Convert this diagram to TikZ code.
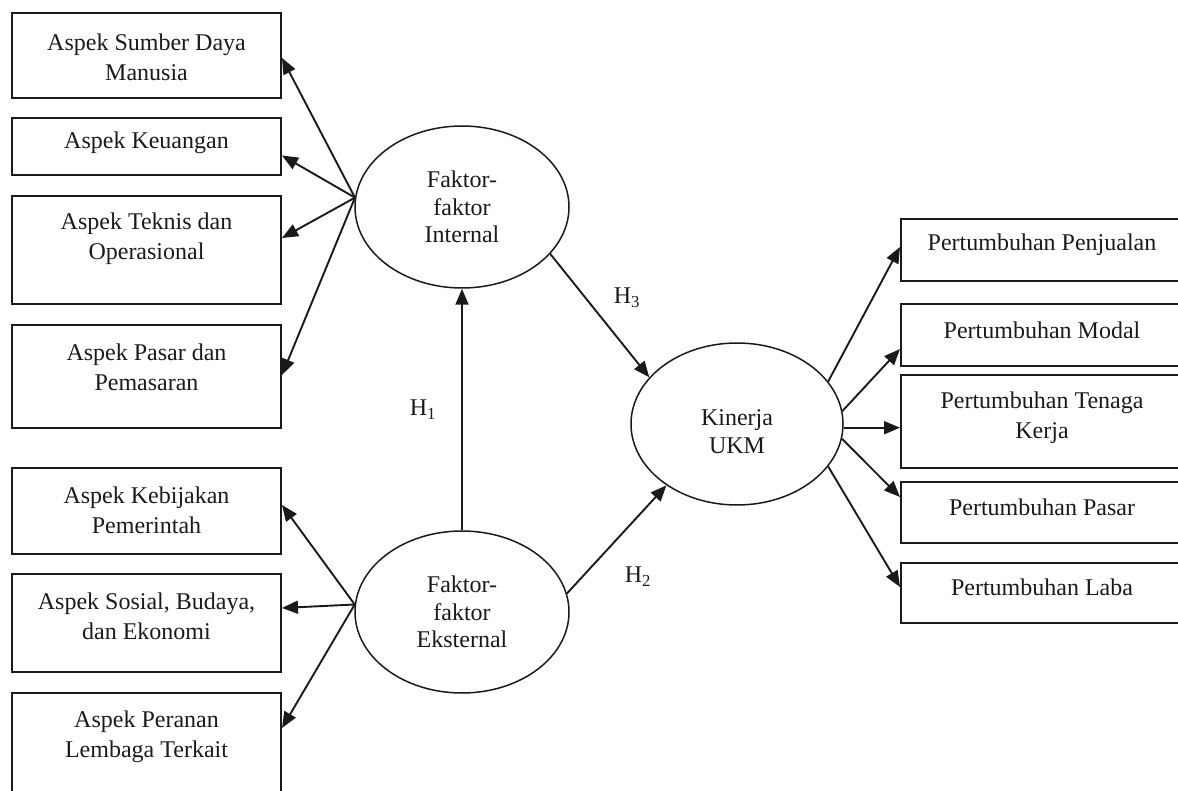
\documentclass[tikz,border=0pt]{standalone}
\usepackage{fontspec}
\setmainfont{Liberation Serif}
\usetikzlibrary{arrows.meta,shapes.geometric,calc}
\definecolor{ink}{HTML}{1A1A1A}
\begin{document}
\begin{tikzpicture}[x=1pt,y=-1pt,
  box/.style={draw=ink, line width=2pt, rectangle, inner sep=0pt},
  lbox/.style={box, minimum width=269pt},
  rbox/.style={box, minimum width=284pt},
  oval/.style={draw=ink, line width=1.5pt, ellipse, inner sep=0pt,
    minimum width=214pt, minimum height=162pt, align=center,
    font=\fontsize{24}{27.5}\selectfont, text=ink},
  txt/.style={align=center, inner sep=0pt, font=\fontsize{24}{30}\selectfont, text=ink},
  arr/.style={draw=ink, line width=1.9pt, -{Triangle[length=16pt,width=13pt]}},
  hyp/.style={inner sep=0pt, font=\fontsize{24}{28}\selectfont, text=ink}]

\useasboundingbox (0,0) rectangle (1178,791);

% indicator boxes of the internal factors
\node[lbox, minimum height=85pt]  (b1) at (146.5,55.5) {};
\node[lbox, minimum height=57pt]  (b2) at (146.5,146.5) {};
\node[lbox, minimum height=108pt] (b3) at (146.5,250) {};
\node[lbox, minimum height=103pt] (b4) at (146.5,376.5) {};
\node[txt] (t1) at (146.5,57)  {Aspek Sumber Daya\\Manusia};
\node[txt] (t2) at (146.5,143) {Aspek Keuangan};
\node[txt] (t3) at (146.5,239) {Aspek Teknis dan\\Operasional};
\node[txt] (t4) at (146.5,367) {Aspek Pasar dan\\Pemasaran};

% indicator boxes of the external factors
\node[lbox, minimum height=86pt]  (b5) at (146.5,511) {};
\node[lbox, minimum height=98pt]  (b6) at (146.5,623) {};
\node[lbox, minimum height=107pt] (b7) at (146.5,746.5) {};
\node[txt] (t5) at (146.5,510) {Aspek Kebijakan\\Pemerintah};
\node[txt] (t6) at (146.5,616) {Aspek Sosial, Budaya,\\dan Ekonomi};
\node[txt] (t7) at (146.5,737) {Aspek Peranan\\Lembaga Terkait};

% performance indicator boxes
\node[rbox, minimum height=62pt] (r1) at (1043,250) {};
\node[rbox, minimum height=62pt] (r2) at (1043,335) {};
\node[rbox, minimum height=93pt] (r3) at (1043,421.5) {};
\node[rbox, minimum height=61pt] (r4) at (1043,512.5) {};
\node[rbox, minimum height=60pt] (r5) at (1043,593) {};
\node[txt] (rt1) at (1042,245) {Pertumbuhan Penjualan};
\node[txt] (rt2) at (1042,330) {Pertumbuhan Modal};
\node[txt] (rt3) at (1042,418) {Pertumbuhan Tenaga\\Kerja};
\node[txt] (rt4) at (1042,507) {Pertumbuhan Pasar};
\node[txt] (rt5) at (1042,587) {Pertumbuhan Laba};

% latent constructs (the strut nudges the Kinerja lines down a little)
\node[oval] (I) at (462,207) {Faktor-\\faktor\\Internal};
\node[oval] (E) at (462,612) {Faktor-\\faktor\\Eksternal};
\node[oval, minimum width=212pt] (K) at (737,424) {\rule{0pt}{31pt}Kinerja\\UKM};

% internal factor -> its aspects
\draw[arr] (I.175) -- ([yshift=-2.5pt]b1.east);
\draw[arr] (I.175) -- ([yshift=-9pt]b2.east);
\draw[arr] (I.175) -- ([yshift=12pt]b3.east);
\draw[arr] (I.175) -- ([yshift=1.5pt]b4.east);

% external factor -> its aspects
\draw[arr] (E.176) -- ([yshift=6pt]b5.east);
\draw[arr] (E.176) -- ([yshift=15pt]b6.east);
\draw[arr] (E.176) -- ([yshift=18.5pt]b7.east);

% performance -> its indicators
\draw[arr] (K.25) -- ([yshift=3pt]r1.west);
\draw[arr] (K.7)  -- ([yshift=-14pt]r2.west);
\draw[arr] (K.-2) -- (K.-2 -| r3.west);
\draw[arr] (K.-8) -- ([yshift=15.5pt]r4.west);
\draw[arr] (K.-25) -- ([yshift=6pt]r5.west);

% hypotheses
\draw[arr] (E.north) -- (I.south);
\draw[arr] (I.-28) -- (K.152);
\draw[arr] (E.10) -- (K.221);
\node[hyp] (h1) at (423,410) {H\textsubscript{1}};
\node[hyp] (h3) at (627,298) {H\textsubscript{3}};
\node[hyp] (h2) at (638,577) {H\textsubscript{2}};
\end{tikzpicture}
\end{document}
